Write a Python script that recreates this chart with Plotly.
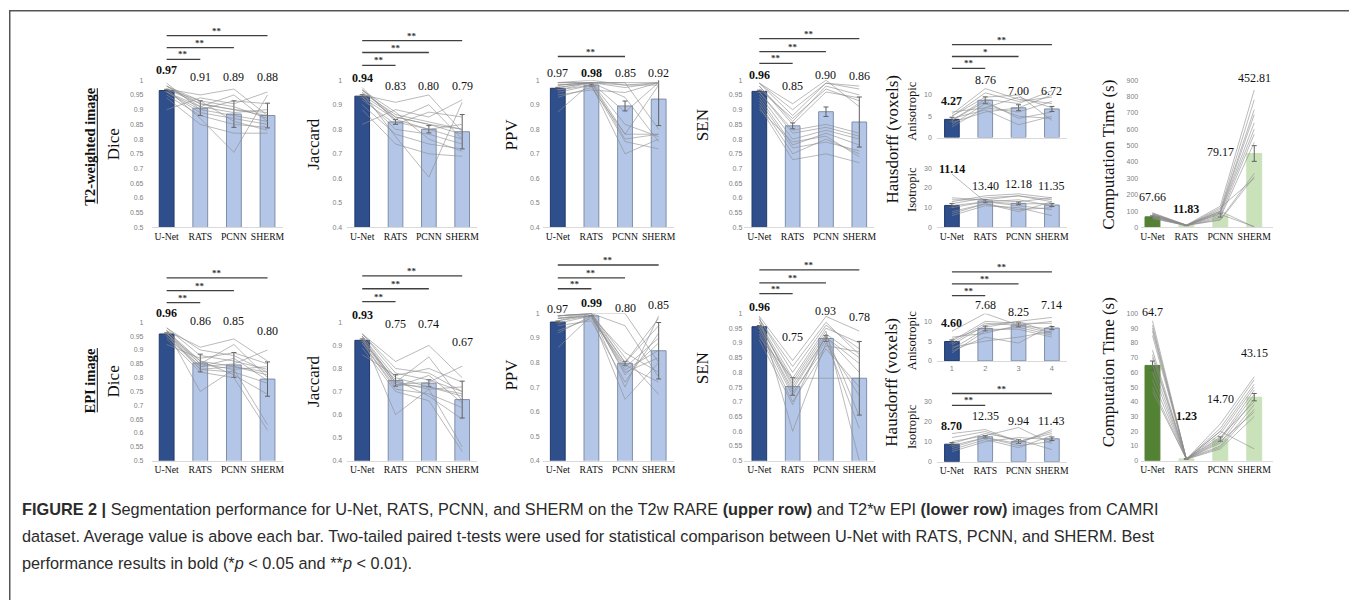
import plotly.graph_objects as go

W, H = 1357, 600
METHODS = ["U-Net", "RATS", "PCNN", "SHERM"]
NUM_LABELS = ["1", "2", "3", "4"]

# ---------------- tick labels ----------------
TICKS_05 = [0.5, 0.55, 0.6, 0.65, 0.7, 0.75, 0.8, 0.85, 0.9, 0.95, 1.0]
TICKTEXT_05 = ["0.5", "0.55", "0.6", "0.65", "0.7", "0.75", "0.8", "0.85", "0.9", "0.95", "1"]
TICKS_04 = [0.4, 0.5, 0.6, 0.7, 0.8, 0.9, 1.0]
TICKTEXT_04 = ["0.4", "0.5", "0.6", "0.7", "0.8", "0.9", "1"]
TICKS_HA = [0, 5, 10]
TICKS_HI = [0, 10, 20, 30]
TICKS_CT_TOP = [0, 100, 200, 300, 400, 500, 600, 700, 800, 900]
TICKS_CT_BOT = [0, 10, 20, 30, 40, 50, 60, 70, 80, 90, 100]

# ---------------- T2-weighted image (upper row) ----------------
T2_DICE_LABEL = ["0.97", "0.91", "0.89", "0.88"]
T2_DICE_BAR = [0.965, 0.905, 0.885, 0.880]
T2_DICE_ERR = [0.004, 0.025, 0.045, 0.042]
T2_DICE_SUBJ = [
    [0.98, 0.92, 0.90, 0.88], [0.97, 0.93, 0.91, 0.87], [0.99, 0.90, 0.88, 0.86],
    [0.96, 0.89, 0.87, 0.85], [0.97, 0.95, 0.97, 0.88], [0.95, 0.88, 0.85, 0.84],
    [0.98, 0.91, 0.89, 0.90], [0.96, 0.90, 0.93, 0.92], [0.90, 0.94, 0.92, 0.96],
    [0.97, 0.87, 0.755, 0.95], [0.98, 0.93, 0.86, 0.83], [0.94, 0.85, 0.82, 0.82],
    [0.97, 0.92, 0.90, 0.89], [0.96, 0.91, 0.95, 0.86],
]

T2_JAC_LABEL = ["0.94", "0.83", "0.80", "0.79"]
T2_JAC_BAR = [0.935, 0.830, 0.800, 0.790]
T2_JAC_ERR = [0.006, 0.010, 0.015, 0.070]
T2_JAC_SUBJ = [
    [0.96, 0.85, 0.82, 0.78], [0.95, 0.86, 0.83, 0.80], [0.97, 0.83, 0.80, 0.76],
    [0.93, 0.80, 0.78, 0.74], [0.94, 0.91, 0.94, 0.79], [0.90, 0.78, 0.74, 0.72],
    [0.96, 0.84, 0.80, 0.82], [0.92, 0.82, 0.87, 0.85], [0.82, 0.88, 0.85, 0.92],
    [0.95, 0.77, 0.605, 0.91], [0.96, 0.87, 0.76, 0.71], [0.88, 0.74, 0.70, 0.69],
    [0.94, 0.85, 0.82, 0.80], [0.93, 0.84, 0.90, 0.76],
]

T2_PPV_LABEL = ["0.97", "0.98", "0.85", "0.92"]
T2_PPV_BAR = [0.967, 0.980, 0.895, 0.923]
T2_PPV_ERR = [0.004, 0.004, 0.020, 0.108]
T2_PPV_SUBJ = [
    [0.99, 0.99, 0.99, 0.99], [0.98, 0.99, 0.97, 0.99], [0.97, 0.99, 0.78, 0.78],
    [0.96, 0.98, 0.70, 0.76], [0.99, 1.00, 0.98, 0.99], [0.95, 0.98, 0.75, 0.72],
    [0.98, 0.99, 0.87, 0.99], [0.87, 0.99, 0.99, 0.80], [0.93, 0.97, 0.78, 0.98],
    [0.97, 0.99, 0.93, 0.75], [0.99, 0.99, 0.82, 0.77], [0.94, 0.96, 0.95, 0.99],
    [0.96, 0.99, 0.76, 0.78], [0.98, 0.99, 0.98, 0.98],
]

T2_SEN_LABEL = ["0.96", "0.85", "0.90", "0.86"]
T2_SEN_BAR = [0.962, 0.845, 0.893, 0.858]
T2_SEN_ERR = [0.004, 0.010, 0.016, 0.085]
T2_SEN_SUBJ = [
    [0.99, 0.88, 0.99, 0.97], [0.98, 0.86, 0.98, 0.95], [0.99, 0.90, 0.99, 0.98],
    [0.97, 0.87, 0.97, 0.93], [0.98, 0.85, 0.96, 0.94], [0.99, 0.92, 1.00, 0.91],
    [0.95, 0.80, 0.83, 0.80], [0.94, 0.78, 0.82, 0.78], [0.92, 0.75, 0.80, 0.75],
    [0.96, 0.82, 0.84, 0.81], [0.91, 0.73, 0.75, 0.72], [0.93, 0.77, 0.79, 0.76],
    [0.96, 0.83, 0.85, 0.82], [0.90, 0.79, 0.81, 0.74],
]

T2_HA_LABEL = ["4.27", "8.76", "7.00", "6.72"]
T2_HA_BAR = [4.27, 8.76, 7.00, 6.72]
T2_HA_ERR = [0.5, 0.8, 0.7, 0.6]
T2_HA_SUBJ = [
    [5.5, 11.5, 9.0, 8.0], [5.0, 10.5, 8.5, 9.5], [4.0, 9.0, 8.0, 11.0],
    [3.0, 8.0, 5.0, 4.5], [6.0, 7.0, 9.5, 7.0], [4.5, 6.5, 3.0, 5.0],
    [2.5, 7.0, 6.0, 8.5], [5.0, 9.5, 10.0, 4.0], [3.5, 6.0, 7.0, 10.0],
    [4.0, 8.5, 4.5, 6.0],
]

T2_HI_LABEL = ["11.14", "13.40", "12.18", "11.35"]
T2_HI_BAR = [11.14, 13.40, 12.18, 11.35]
T2_HI_ERR = [1.0, 0.7, 0.7, 0.8]
T2_HI_SUBJ = [
    [27, 13, 12, 12], [14, 14, 16, 13], [12, 15, 16, 14], [10, 13, 11, 9],
    [8, 12, 8, 13], [6, 11, 10, 6], [13, 16, 17, 15], [11, 13, 14, 11],
    [7, 12, 9, 10], [15, 14, 13, 15],
]

T2_CT_LABEL = ["67.66", "11.83", "79.17", "452.81"]
T2_CT_BAR = [65, 12, 75, 452]
T2_CT_ERR = [6, 1, 12, 48]
T2_CT_SUBJ = [
    [90, 15, 130, 840], [85, 14, 110, 780], [80, 13, 100, 720], [75, 12, 95, 690],
    [70, 12, 90, 640], [65, 11, 85, 600], [60, 12, 70, 570], [55, 11, 60, 520],
    [80, 13, 50, 330], [70, 12, 45, 310], [60, 11, 120, 300], [85, 14, 80, 5],
    [75, 13, 100, 2],
]

# ---------------- EPI image (lower row) ----------------
EPI_DICE_LABEL = ["0.96", "0.86", "0.85", "0.80"]
EPI_DICE_BAR = [0.958, 0.853, 0.846, 0.795]
EPI_DICE_ERR = [0.004, 0.032, 0.045, 0.062]
EPI_DICE_SUBJ = [
    [0.98, 0.88, 0.86, 0.83], [0.97, 0.86, 0.84, 0.82], [0.96, 0.85, 0.92, 0.80],
    [0.97, 0.91, 0.94, 0.86], [0.95, 0.83, 0.82, 0.78], [0.96, 0.84, 0.85, 0.90],
    [0.94, 0.82, 0.80, 0.61], [0.97, 0.75, 0.83, 0.63], [0.92, 0.87, 0.89, 0.85],
    [0.98, 0.90, 0.88, 0.82], [0.96, 0.86, 0.81, 0.74], [0.95, 0.84, 0.87, 0.79],
    [0.97, 0.85, 0.83, 0.84], [0.96, 0.83, 0.84, 0.81],
]

EPI_JAC_LABEL = ["0.93", "0.75", "0.74", "0.67"]
EPI_JAC_BAR = [0.922, 0.748, 0.736, 0.665]
EPI_JAC_ERR = [0.006, 0.025, 0.015, 0.080]
EPI_JAC_SUBJ = [
    [0.95, 0.78, 0.75, 0.70], [0.94, 0.76, 0.72, 0.69], [0.93, 0.74, 0.85, 0.66],
    [0.95, 0.83, 0.90, 0.76], [0.91, 0.71, 0.69, 0.63], [0.92, 0.73, 0.74, 0.81],
    [0.89, 0.70, 0.66, 0.44], [0.94, 0.60, 0.71, 0.46], [0.86, 0.77, 0.80, 0.74],
    [0.95, 0.80, 0.78, 0.70], [0.92, 0.75, 0.68, 0.58], [0.91, 0.72, 0.77, 0.65],
    [0.94, 0.74, 0.71, 0.72], [0.93, 0.73, 0.72, 0.68],
]

EPI_PPV_LABEL = ["0.97", "0.99", "0.80", "0.85"]
EPI_PPV_BAR = [0.965, 0.990, 0.797, 0.848]
EPI_PPV_ERR = [0.004, 0.002, 0.008, 0.115]
EPI_PPV_SUBJ = [
    [0.99, 1.00, 0.80, 0.95], [0.98, 0.99, 0.78, 0.90], [0.97, 1.00, 0.75, 0.88],
    [0.99, 1.00, 0.70, 0.99], [0.96, 0.99, 0.65, 0.80], [0.86, 0.99, 0.84, 0.76],
    [0.93, 0.98, 0.79, 0.72], [0.98, 1.00, 0.82, 0.67], [0.99, 1.00, 1.00, 0.80],
    [0.97, 0.99, 0.77, 0.85], [0.95, 0.97, 0.72, 0.92], [0.99, 1.00, 0.95, 0.74],
    [0.98, 0.99, 0.76, 0.82], [0.92, 0.99, 0.80, 0.98],
]

EPI_SEN_LABEL = ["0.96", "0.75", "0.93", "0.78"]
EPI_SEN_BAR = [0.955, 0.752, 0.915, 0.780]
EPI_SEN_ERR = [0.004, 0.030, 0.010, 0.125]
EPI_SEN_SUBJ = [
    [0.99, 0.84, 0.99, 0.94], [0.98, 0.80, 0.96, 0.88], [0.97, 0.78, 0.95, 0.90],
    [0.96, 0.76, 0.93, 0.85], [0.95, 0.74, 0.92, 0.80], [0.99, 0.60, 0.90, 0.72],
    [0.94, 0.72, 0.91, 0.61], [0.96, 0.77, 0.94, 0.50], [0.92, 0.78, 0.78, 0.78],
    [0.98, 0.82, 0.97, 0.86], [0.93, 0.70, 0.88, 0.75], [0.97, 0.75, 0.92, 0.83],
    [0.95, 0.73, 0.89, 0.87], [0.91, 0.69, 0.93, 0.65],
]

EPI_HA_LABEL = ["4.60", "7.68", "8.25", "7.14"]
EPI_HA_BAR = [4.9, 8.2, 9.1, 8.3]
EPI_HA_ERR = [0.4, 0.6, 0.5, 0.4]
EPI_HA_SUBJ = [
    [7.5, 12.0, 9.0, 8.0], [5.0, 10.0, 9.5, 9.5], [4.0, 9.0, 10.0, 11.0],
    [3.0, 8.0, 8.0, 6.0], [6.0, 7.0, 9.0, 7.0], [2.5, 6.0, 4.5, 9.0],
    [3.5, 5.0, 6.0, 7.5], [5.5, 8.5, 10.0, 7.0], [2.0, 7.5, 8.5, 6.5],
    [4.5, 9.5, 9.0, 10.0],
]

EPI_HI_LABEL = ["8.70", "12.35", "9.94", "11.43"]
EPI_HI_BAR = [8.7, 12.4, 10.0, 11.4]
EPI_HI_ERR = [0.8, 0.6, 0.9, 0.9]
EPI_HI_SUBJ = [
    [14, 16, 10, 14], [10, 13, 17, 9], [8, 12, 9, 16], [6, 11, 7, 13],
    [5, 10, 12, 11], [9, 14, 11, 6], [12, 15, 10, 15], [7, 12, 8, 10],
]

EPI_CT_LABEL = ["64.7", "1.23", "14.70", "43.15"]
EPI_CT_BAR = [64.7, 1.23, 14.7, 43.15]
EPI_CT_ERR = [3, 0.1, 1.5, 2.5]
EPI_CT_SUBJ = [
    [95, 1.0, 25, 57], [92, 1.0, 22, 55], [90, 1.2, 20, 52], [88, 1.0, 18, 50],
    [75, 1.5, 15, 48], [72, 1.0, 14, 45], [65, 1.0, 12, 42], [60, 1.3, 10, 38],
    [50, 1.0, 9, 35], [47, 1.0, 8, 30], [85, 1.2, 16, 40], [70, 1.0, 20, 8],
    [55, 1.1, 13, 33],
]

# best (bold) method index per panel
BEST_T2 = {"dice": 0, "jac": 0, "ppv": 1, "sen": 0, "ha": 0, "hi": 0, "ct": 1}
BEST_EPI = {"dice": 0, "jac": 0, "ppv": 1, "sen": 0, "ha": 0, "hi": 0, "ct": 1}

# significance comparisons: (target method index, stars)
SIG_ALL = [(1, "**"), (2, "**"), (3, "**")]

SERIF = "Liberation Serif"
SANS = "Liberation Sans"
BLUE_DARK, BLUE_DARK_LINE = "#2F4E8C", "#22396A"
BLUE_LIGHT, BLUE_LIGHT_LINE = "#B4C6E7", "#7F8EA8"
GREEN_DARK, GREEN_LIGHT = "#548235", "#C9E2BA"

# the page body adds an 8px margin; all pixel positions below are in screen pixels
OFF = 8


def px_x(p):
    return (p - OFF) / W


def px_y(p):
    return 1 - (p - OFF) / H


# panel layout: c0 = U-Net centre (px), s = spacing (px), y pixel of range top / bottom
PANELS = [
    # upper row
    dict(label=T2_DICE_LABEL, bar=T2_DICE_BAR, err=T2_DICE_ERR, subj=T2_DICE_SUBJ, best=BEST_T2["dice"],
         c0=166, s=33.7, xr=(-0.45, 3.45), ytop=77, ybot=226, yr=(0.5, 1.0), tv=TICKS_05, tt=TICKTEXT_05,
         xt=METHODS, lab_y=[67, 74, 74, 74], sig=SIG_ALL, sig_y=[56, 44, 32], so=7,
         title="Dice", tpos=(113, 142), tsize=17, green=False),
    dict(label=T2_JAC_LABEL, bar=T2_JAC_BAR, err=T2_JAC_ERR, subj=T2_JAC_SUBJ, best=BEST_T2["jac"],
         c0=362, s=33.4, xr=(-0.45, 3.45), ytop=77, ybot=226, yr=(0.4, 1.0), tv=TICKS_04, tt=TICKTEXT_04,
         xt=METHODS, lab_y=[75, 83, 83, 83], sig=SIG_ALL, sig_y=[62, 49, 37], so=4,
         title="Jaccard", tpos=(313, 142), tsize=17, green=False),
    dict(label=T2_PPV_LABEL, bar=T2_PPV_BAR, err=T2_PPV_ERR, subj=T2_PPV_SUBJ, best=BEST_T2["ppv"],
         c0=558, s=33.7, xr=(-0.45, 3.45), ytop=77, ybot=226, yr=(0.4, 1.0), tv=TICKS_04, tt=TICKTEXT_04,
         xt=METHODS, lab_y=[70, 70, 70, 70], sig=[(2, "**")], sig_y=[53], so=2,
         title="PPV", tpos=(512, 132), tsize=17, green=False),
    dict(label=T2_SEN_LABEL, bar=T2_SEN_BAR, err=T2_SEN_ERR, subj=T2_SEN_SUBJ, best=BEST_T2["sen"],
         c0=760, s=33.4, xr=(-0.45, 3.45), ytop=77, ybot=226, yr=(0.5, 1.0), tv=TICKS_05, tt=TICKTEXT_05,
         xt=METHODS, lab_y=[72, 83, 72, 73], sig=SIG_ALL, sig_y=[60, 48, 35], so=1,
         title="SEN", tpos=(703, 122), tsize=17, green=False),
    dict(label=T2_HA_LABEL, bar=T2_HA_BAR, err=T2_HA_ERR, subj=T2_HA_SUBJ, best=BEST_T2["ha"],
         c0=953, s=33.4, xr=(-0.45, 3.45), ytop=83.4, ybot=135, yr=(0, 12), tv=TICKS_HA, tt=None,
         xt=None, lab_y=[98, 77, 88, 88], sig=[(1, "**"), (2, "*"), (3, "**")], sig_y=[65, 53, 41], so=4,
         title="Anisotropic", tpos=(913, 108), tsize=12.5, green=False),
    dict(label=T2_HI_LABEL, bar=T2_HI_BAR, err=T2_HI_ERR, subj=T2_HI_SUBJ, best=BEST_T2["hi"],
         c0=953, s=33.4, xr=(-0.45, 3.45), ytop=166, ybot=226, yr=(0, 30), tv=TICKS_HI, tt=None,
         xt=METHODS, lab_y=[167, 184, 182, 184], sig=[], sig_y=[], so=4,
         title="Isotropic", tpos=(913, 187), tsize=12.5, green=False),
    dict(label=T2_CT_LABEL, bar=T2_CT_BAR, err=T2_CT_ERR, subj=T2_CT_SUBJ, best=BEST_T2["ct"],
         c0=1154, s=34, xr=(-0.33, 3.55), ytop=77, ybot=226, yr=(0, 900), tv=TICKS_CT_TOP, tt=None,
         xt=METHODS, lab_y=[195, 207, 150, 75], sig=[], sig_y=[], so=2,
         title="Computation Time (s)", tpos=(1110, 153), tsize=17, green=True),
    # lower row
    dict(label=EPI_DICE_LABEL, bar=EPI_DICE_BAR, err=EPI_DICE_ERR, subj=EPI_DICE_SUBJ, best=BEST_EPI["dice"],
         c0=166, s=33.7, xr=(-0.45, 3.45), ytop=322, ybot=462, yr=(0.5, 1.0), tv=TICKS_05, tt=TICKTEXT_05,
         xt=METHODS, lab_y=[313, 321, 321, 331], sig=SIG_ALL, sig_y=[302, 290, 277], so=7,
         title="Dice", tpos=(113, 382), tsize=17, green=False),
    dict(label=EPI_JAC_LABEL, bar=EPI_JAC_BAR, err=EPI_JAC_ERR, subj=EPI_JAC_SUBJ, best=BEST_EPI["jac"],
         c0=362, s=33.4, xr=(-0.45, 3.45), ytop=322, ybot=462, yr=(0.4, 1.0), tv=TICKS_04, tt=TICKTEXT_04,
         xt=METHODS, lab_y=[315, 324, 324, 342], sig=SIG_ALL, sig_y=[301, 288, 275], so=4,
         title="Jaccard", tpos=(313, 382), tsize=17, green=False),
    dict(label=EPI_PPV_LABEL, bar=EPI_PPV_BAR, err=EPI_PPV_ERR, subj=EPI_PPV_SUBJ, best=BEST_EPI["ppv"],
         c0=558, s=33.7, xr=(-0.45, 3.45), ytop=313, ybot=462, yr=(0.4, 1.0), tv=TICKS_04, tt=TICKTEXT_04,
         xt=METHODS, lab_y=[308, 302, 307, 304], sig=SIG_ALL, sig_y=[288, 277, 264], so=2,
         title="PPV", tpos=(512, 375), tsize=17, green=False),
    dict(label=EPI_SEN_LABEL, bar=EPI_SEN_BAR, err=EPI_SEN_ERR, subj=EPI_SEN_SUBJ, best=BEST_EPI["sen"],
         c0=760, s=33.4, xr=(-0.45, 3.45), ytop=313, ybot=462, yr=(0.5, 1.0), tv=TICKS_05, tt=TICKTEXT_05,
         xt=METHODS, lab_y=[306, 337, 311, 317], sig=SIG_ALL, sig_y=[293, 282, 269], so=1,
         title="SEN", tpos=(703, 368), tsize=17, green=False),
    dict(label=EPI_HA_LABEL, bar=EPI_HA_BAR, err=EPI_HA_ERR, subj=EPI_HA_SUBJ, best=BEST_EPI["ha"],
         c0=953, s=33.4, xr=(-0.45, 3.45), ytop=313, ybot=361, yr=(0, 12), tv=TICKS_HA, tt=None,
         xt=NUM_LABELS, lab_y=[323, 304, 312, 304], sig=SIG_ALL, sig_y=[295, 283, 271], so=4,
         title="Anisotropic", tpos=(913, 340), tsize=12.5, green=False),
    dict(label=EPI_HI_LABEL, bar=EPI_HI_BAR, err=EPI_HI_ERR, subj=EPI_HI_SUBJ, best=BEST_EPI["hi"],
         c0=953, s=33.4, xr=(-0.45, 3.45), ytop=402, ybot=463, yr=(0, 30), tv=TICKS_HI, tt=None,
         xt=METHODS, lab_y=[427, 417, 422, 422], sig=[(1, "**"), (3, "**")], sig_y=[406, 394], so=4,
         title="Isotropic", tpos=(913, 427), tsize=12.5, green=False),
    dict(label=EPI_CT_LABEL, bar=EPI_CT_BAR, err=EPI_CT_ERR, subj=EPI_CT_SUBJ, best=BEST_EPI["ct"],
         c0=1154, s=34, xr=(-0.33, 3.55), ytop=313, ybot=462, yr=(0, 100), tv=TICKS_CT_BOT, tt=None,
         xt=METHODS, lab_y=[312, 417, 400, 353], sig=[], sig_y=[], so=2,
         title="Computation Time (s)", tpos=(1110, 373), tsize=17, green=True),
]

fig = go.Figure()
layout = dict(
    width=W, height=H, margin=dict(l=0, r=0, t=0, b=0),
    paper_bgcolor="white", plot_bgcolor="rgba(0,0,0,0)", showlegend=False,
)
annotations = []
shapes = []

for n, p in enumerate(PANELS, start=1):
    sfx = "" if n == 1 else str(n)
    xa, ya = "x" + sfx, "y" + sfx
    cats = [0, 1, 2, 3]
    if p["green"]:
        fills = [GREEN_DARK, GREEN_LIGHT, GREEN_LIGHT, GREEN_LIGHT]
        lines = [GREEN_DARK, GREEN_LIGHT, GREEN_LIGHT, GREEN_LIGHT]
    else:
        fills = [BLUE_DARK, BLUE_LIGHT, BLUE_LIGHT, BLUE_LIGHT]
        lines = [BLUE_DARK_LINE, BLUE_LIGHT_LINE, BLUE_LIGHT_LINE, BLUE_LIGHT_LINE]
    fig.add_trace(go.Bar(
        x=cats, y=p["bar"], width=0.44, xaxis=xa, yaxis=ya,
        marker=dict(color=fills, line=dict(color=lines, width=1)),
        error_y=dict(type="data", array=p["err"], color="#606060", thickness=1, width=2.5),
        hoverinfo="skip",
    ))
    lx, ly = [], []
    for row in p["subj"]:
        lx += cats + [None]
        ly += list(row) + [None]
    fig.add_trace(go.Scatter(
        x=lx, y=ly, mode="lines", xaxis=xa, yaxis=ya,
        line=dict(color="rgba(140,140,140,0.6)", width=1), hoverinfo="skip", cliponaxis=False,
    ))

    x0 = p["c0"] + p["xr"][0] * p["s"]
    x1 = p["c0"] + p["xr"][1] * p["s"]
    xaxis = dict(
        domain=[px_x(x0), px_x(x1)], range=list(p["xr"]), anchor=ya,
        showgrid=False, zeroline=False, showline=True, linecolor="#D9D9D9", linewidth=1,
        ticks="", fixedrange=True, tickangle=0,
    )
    if p["xt"] is None:
        xaxis["showticklabels"] = False
    else:
        xaxis.update(tickmode="array", tickvals=cats, ticktext=p["xt"])
        if p["xt"] is NUM_LABELS:
            xaxis["tickfont"] = dict(family=SANS, size=7.5, color="#7F7F7F")
        else:
            xaxis["tickfont"] = dict(family=SERIF, size=9.7, color="#111111")
    yaxis = dict(
        domain=[px_y(p["ybot"]), px_y(p["ytop"])], range=list(p["yr"]), anchor=xa,
        showgrid=False, zeroline=False, showline=False, ticks="", fixedrange=True,
        tickmode="array", tickvals=p["tv"], ticktext=p["tt"] if p["tt"] else [str(v) for v in p["tv"]],
        tickfont=dict(family=SANS, size=7, color="#7F7F7F"), ticklabelstandoff=p["so"],
    )
    layout["xaxis" + sfx] = xaxis
    layout["yaxis" + sfx] = yaxis

    # value labels
    for i, txt in enumerate(p["label"]):
        t = "<b>%s</b>" % txt if i == p["best"] else txt
        annotations.append(dict(
            x=i, y=px_y(p["lab_y"][i]), xref=xa, yref="paper", text=t, showarrow=False,
            font=dict(family=SERIF, size=12, color="#111111"), xanchor="center", yanchor="middle",
        ))
    # significance brackets
    for (k, stars), ypx in zip(p["sig"], p["sig_y"]):
        shapes.append(dict(type="line", xref=xa, yref="paper", x0=0, x1=k,
                           y0=px_y(ypx), y1=px_y(ypx), line=dict(color="#404040", width=1.3)))
        annotations.append(dict(
            x=k / 2, y=px_y(ypx - 5), xref=xa, yref="paper", text="<b>%s</b>" % stars, showarrow=False,
            font=dict(family=SERIF, size=9, color="#333333"), xanchor="center", yanchor="middle",
        ))
    # axis title
    annotations.append(dict(
        x=px_x(p["tpos"][0]), y=px_y(p["tpos"][1]), xref="paper", yref="paper", text=p["title"],
        textangle=-90, showarrow=False, font=dict(family=SERIF, size=p["tsize"], color="#111111"),
        xanchor="center", yanchor="middle",
    ))

# Hausdorff shared titles and row titles
for ycen in (137, 383):
    annotations.append(dict(
        x=px_x(893), y=px_y(ycen), xref="paper", yref="paper", text="Hausdorff (voxels)",
        textangle=-90, showarrow=False, font=dict(family=SERIF, size=17, color="#111111"),
        xanchor="center", yanchor="middle",
    ))
ROW_TITLES = [("T2-weighted image", 143.5, 85, 202), ("EPI image", 381, 348, 413)]
for txt, ycen, ya0, ya1 in ROW_TITLES:
    annotations.append(dict(
        x=px_x(89), y=px_y(ycen), xref="paper", yref="paper", text="<b>%s</b>" % txt,
        textangle=-90, showarrow=False, font=dict(family=SERIF, size=14.5, color="#111111"),
        xanchor="center", yanchor="middle",
    ))
    shapes.append(dict(type="line", xref="paper", yref="paper", x0=px_x(96.5), x1=px_x(96.5),
                       y0=px_y(ya0), y1=px_y(ya1), line=dict(color="#111111", width=1)))

# frame
shapes.append(dict(type="path", xref="paper", yref="paper",
                   path="M %f %f L %f %f L %f %f L %f %f" % (
                       px_x(8.75), px_y(612), px_x(8.75), px_y(6.75), px_x(1354.5), px_y(6.75), px_x(1354.5), px_y(612)),
                   line=dict(color="#555555", width=1.5)))

CAPTION = [
    "<b>FIGURE 2 |</b> Segmentation performance for U-Net, RATS, PCNN, and SHERM on the T2w RARE "
    "<b>(upper row)</b> and T2*w EPI <b>(lower row)</b> images from CAMRI",
    "dataset. Average value is above each bar. Two-tailed paired t-tests were used for statistical "
    "comparison between U-Net with RATS, PCNN, and SHERM. Best",
    "performance results in bold (*<i>p</i> &lt; 0.05 and **<i>p</i> &lt; 0.01).",
]
for txt, ypx in zip(CAPTION, [511, 538, 565]):
    annotations.append(dict(
        x=px_x(19), y=px_y(ypx), xref="paper", yref="paper", text=txt, showarrow=False,
        font=dict(family=SANS, size=16.3, color="#2B2B2B"), xanchor="left", yanchor="middle",
    ))

layout["annotations"] = annotations
layout["shapes"] = shapes
fig.update_layout(**layout)
fig.write_html("out.html")
